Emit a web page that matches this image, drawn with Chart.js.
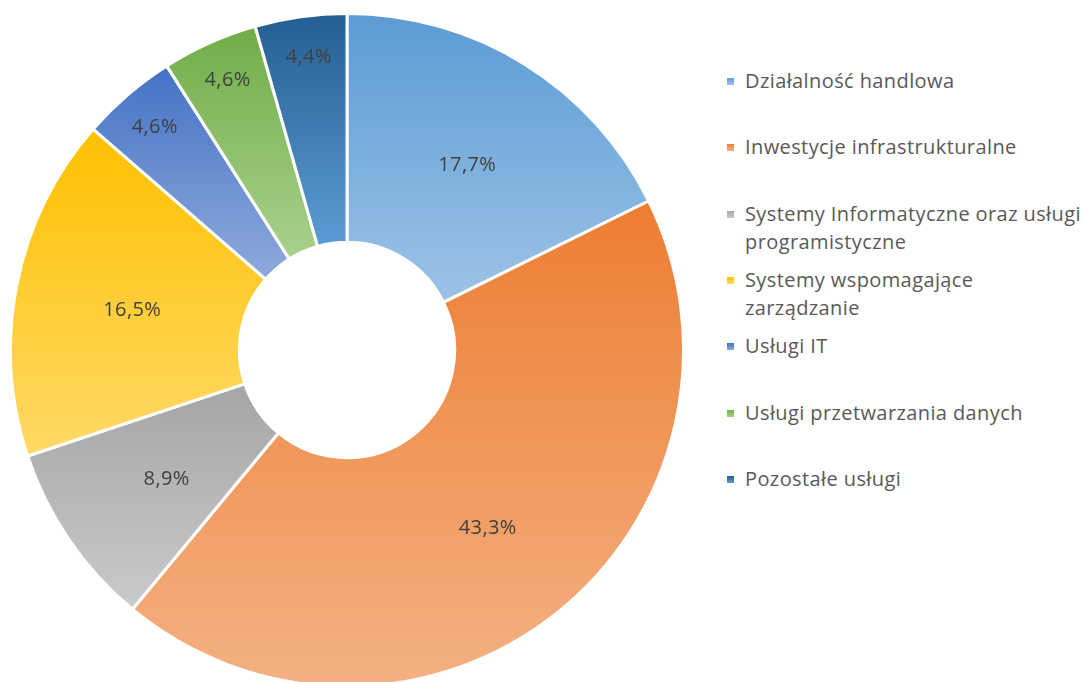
<!DOCTYPE html>
<html lang="pl">
<head>
<meta charset="utf-8">
<script src="https://cdn.jsdelivr.net/npm/chart.js@4.4.1/dist/chart.umd.min.js"></script>
<style>
  html, body { margin: 0; padding: 0; background: #fff; overflow: hidden; }
  body { width: 1084px; height: 682px; position: relative; font-family: "Open Sans", Lato, sans-serif; }
  #wrap { position: absolute; left: 9px; top: 12px; width: 676px; height: 676px; }
  #legend { position: absolute; left: 0; top: 0; }
  .item { position: absolute; left: 745px; width: 345px; color: #595959; font-size: 20px; letter-spacing: 0.4px; line-height: 28px; white-space: nowrap; }
  .box { position: absolute; left: -18px; top: 11px; width: 7px; height: 7px; }
</style>
</head>
<body>
<div id="wrap"><canvas id="pie"></canvas></div>
<div id="legend"></div>
<script>
// dane wykresu
const kategorie = [
  "Działalność handlowa",
  "Inwestycje infrastrukturalne",
  "Systemy Informatyczne oraz usługi programistyczne",
  "Systemy wspomagające zarządzanie",
  "Usługi IT",
  "Usługi przetwarzania danych",
  "Pozostałe usługi"
];
const udzialy = [17.7, 43.3, 8.9, 16.5, 4.6, 4.6, 4.4];
const etykiety = ["17,7%", "43,3%", "8,9%", "16,5%", "4,6%", "4,6%", "4,4%"];
// linie legendy (zawijanie jak w oryginale)
const linieLegendy = [
  ["Działalność handlowa"],
  ["Inwestycje infrastrukturalne"],
  ["Systemy Informatyczne oraz usługi", "programistyczne"],
  ["Systemy wspomagające", "zarządzanie"],
  ["Usługi IT"],
  ["Usługi przetwarzania danych"],
  ["Pozostałe usługi"]
];

// kolory: góra -> dół gradientu
const koloryGora = ["#5B9BD5", "#ED7D31", "#A5A5A5", "#FFC000", "#4472C4", "#70AD47", "#255E91"];
const koloryDol  = ["#9DC3E6", "#F4B183", "#CACACA", "#FFD966", "#8FAADC", "#A9D18E", "#5B9BD5"];

// gradient pionowy dla kazdego wycinka osobno
const gradientPlugin = {
  id: "gradienty",
  beforeDatasetsDraw(chart) {
    const ctx = chart.ctx;
    const meta = chart.getDatasetMeta(0);
    meta.data.forEach((arc, i) => {
      const p = arc.getProps(["x", "y", "startAngle", "endAngle", "innerRadius", "outerRadius"], true);
      let minY = Infinity, maxY = -Infinity;
      for (let k = 0; k <= 60; k++) {
        const a = p.startAngle + (p.endAngle - p.startAngle) * k / 60;
        [p.innerRadius, p.outerRadius].forEach(r => {
          const y = p.y + Math.sin(a) * r;
          minY = Math.min(minY, y);
          maxY = Math.max(maxY, y);
        });
      }
      const g = ctx.createLinearGradient(0, minY, 0, maxY);
      g.addColorStop(0, koloryGora[i]);
      g.addColorStop(1, koloryDol[i]);
      arc.options.backgroundColor = g;
    });
  }
};

// etykiety procentowe; male wycinki maja etykiete blizej krawedzi
const etykietyPlugin = {
  id: "etykiety",
  afterDatasetsDraw(chart) {
    const ctx = chart.ctx;
    const meta = chart.getDatasetMeta(0);
    ctx.save();
    ctx.font = "20px 'Open Sans', Lato, sans-serif";
    ctx.letterSpacing = "0.4px";
    ctx.fillStyle = "#404040";
    ctx.textAlign = "center";
    ctx.textBaseline = "middle";
    meta.data.forEach((arc, i) => {
      const p = arc.getProps(["x", "y", "startAngle", "endAngle", "innerRadius", "outerRadius"], true);
      const a = (p.startAngle + p.endAngle) / 2;
      const r = udzialy[i] < 6 ? p.outerRadius * 0.89 : (p.innerRadius + p.outerRadius) / 2;
      ctx.fillText(etykiety[i], p.x + Math.cos(a) * r + 3, p.y + Math.sin(a) * r + 4);
    });
    ctx.restore();
  }
};

const chart = new Chart(document.getElementById("pie"), {
  type: "doughnut",
  data: {
    labels: kategorie,
    datasets: [{
      data: udzialy,
      backgroundColor: koloryGora,
      borderColor: "#ffffff",
      borderWidth: 3
    }]
  },
  options: {
    responsive: true,
    maintainAspectRatio: false,
    animation: false,
    cutout: "32%",
    plugins: {
      legend: { display: false },
      tooltip: { enabled: false }
    }
  },
  plugins: [gradientPlugin, etykietyPlugin]
});

// legenda w HTML
const legend = document.getElementById("legend");
linieLegendy.forEach((linie, i) => {
  const el = document.createElement("div");
  el.className = "item";
  el.style.top = (81 + i * 66.3 - 14) + "px";
  el.innerHTML = linie.join("<br>");
  const box = document.createElement("span");
  box.className = "box";
  box.style.background = "linear-gradient(" + koloryGora[i] + "," + koloryDol[i] + ")";
  el.appendChild(box);
  legend.appendChild(el);
});
</script>
</body>
</html>
